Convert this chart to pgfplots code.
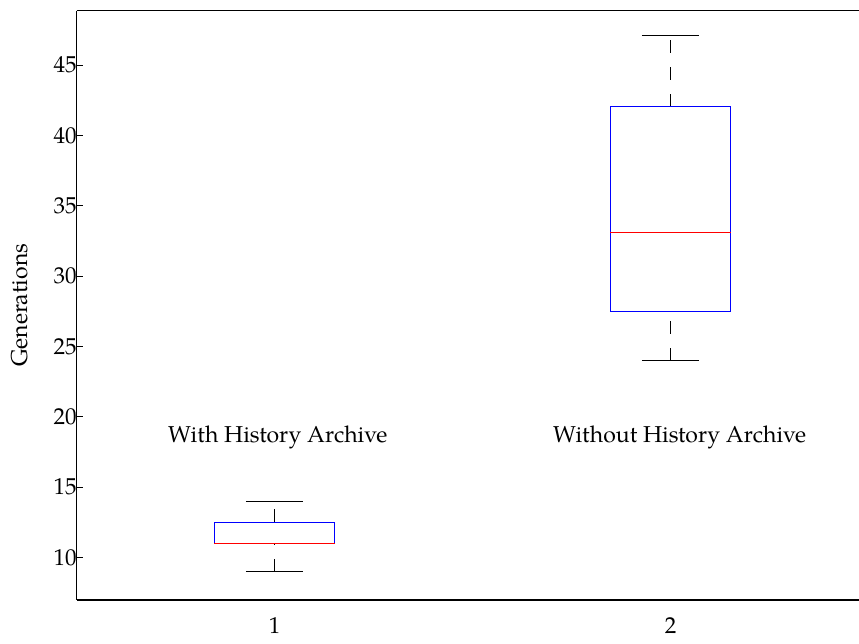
\documentclass[border=0pt]{standalone}
\usepackage{fontspec}
\setmainfont{TeX Gyre Pagella}
\usepackage{pgfplots}
\pgfplotsset{compat=1.18}
\begin{document}
\fontsize{11.5pt}{13.8pt}\selectfont
\begin{tikzpicture}
\begin{axis}[
  scale only axis,
  width=391.2pt, height=294.6pt,
  xmin=0.5, xmax=2.476,
  ymin=7.0, ymax=48.86,
  axis x line*=box,
  axis y line*=left,
  axis line style={line width=0.8pt, black},
  xtick={1,2}, xticklabels={1,2},
  ytick={10,15,...,45},
  tick align=inside,
  major tick length=3pt,
  xtick style={draw=none},
  ytick style={line width=0.5pt, black},
  xtick pos=bottom, ytick pos=left,
  /pgf/number format/assume math mode=true,
  xticklabel style={font=\fontsize{11.5pt}{13pt}\selectfont, yshift=-5pt},
  yticklabel style={font=\fontsize{11.5pt}{13pt}\selectfont, xshift=4pt},
  ylabel={Generations},
  every axis y label/.style={at={(axis description cs:-0.0725,0.5)}, anchor=center, rotate=90, font=\fontsize{11.5pt}{13pt}\selectfont},
  clip=false,
]
% Box 1 (With History Archive): whiskers 9/14, quartiles 11/12.5, median 11
\addplot[black, line width=0.5pt, dash pattern=on 6.5pt off 7pt] coordinates {(1,9) (1,11)};
\addplot[black, line width=0.5pt, dash pattern=on 6.5pt off 7pt] coordinates {(1,12.5) (1,14)};
\addplot[black, line width=0.5pt] coordinates {(0.9275,9) (1.0725,9)};
\addplot[black, line width=0.5pt] coordinates {(0.9275,14) (1.0725,14)};
\addplot[blue, line width=0.6pt] coordinates {(0.848,11) (0.848,12.5) (1.152,12.5) (1.152,11)};
\addplot[red, line width=0.75pt] coordinates {(0.848,11) (1.152,11)};
% Box 2 (Without History Archive): whiskers 24/47.08, quartiles 27.5/42.04, median 33.07
\addplot[black, line width=0.5pt, dash pattern=on 6.5pt off 7pt] coordinates {(2,24) (2,27.5)};
\addplot[black, line width=0.5pt, dash pattern=on 6.5pt off 7pt] coordinates {(2,42.04) (2,47.08)};
\addplot[black, line width=0.5pt] coordinates {(1.9275,24) (2.0725,24)};
\addplot[black, line width=0.5pt] coordinates {(1.9275,47.08) (2.0725,47.08)};
\addplot[blue, line width=0.6pt] coordinates {(1.848,27.5) (2.152,27.5) (2.152,42.04) (1.848,42.04)} -- cycle;
\addplot[red, line width=0.5pt] coordinates {(1.848,33.07) (2.152,33.07)};
\node[anchor=base, font=\fontsize{11.5pt}{13pt}\selectfont] at (axis cs:1.008,18.2) {With History Archive};
\node[anchor=base, font=\fontsize{11.5pt}{13pt}\selectfont] at (axis cs:2.023,18.2) {Without History Archive};
\end{axis}
\pgfresetboundingbox
\path[use as bounding box] (-38.35pt,-21.6pt) rectangle (391.2pt,299.95pt);
\end{tikzpicture}
\end{document}
